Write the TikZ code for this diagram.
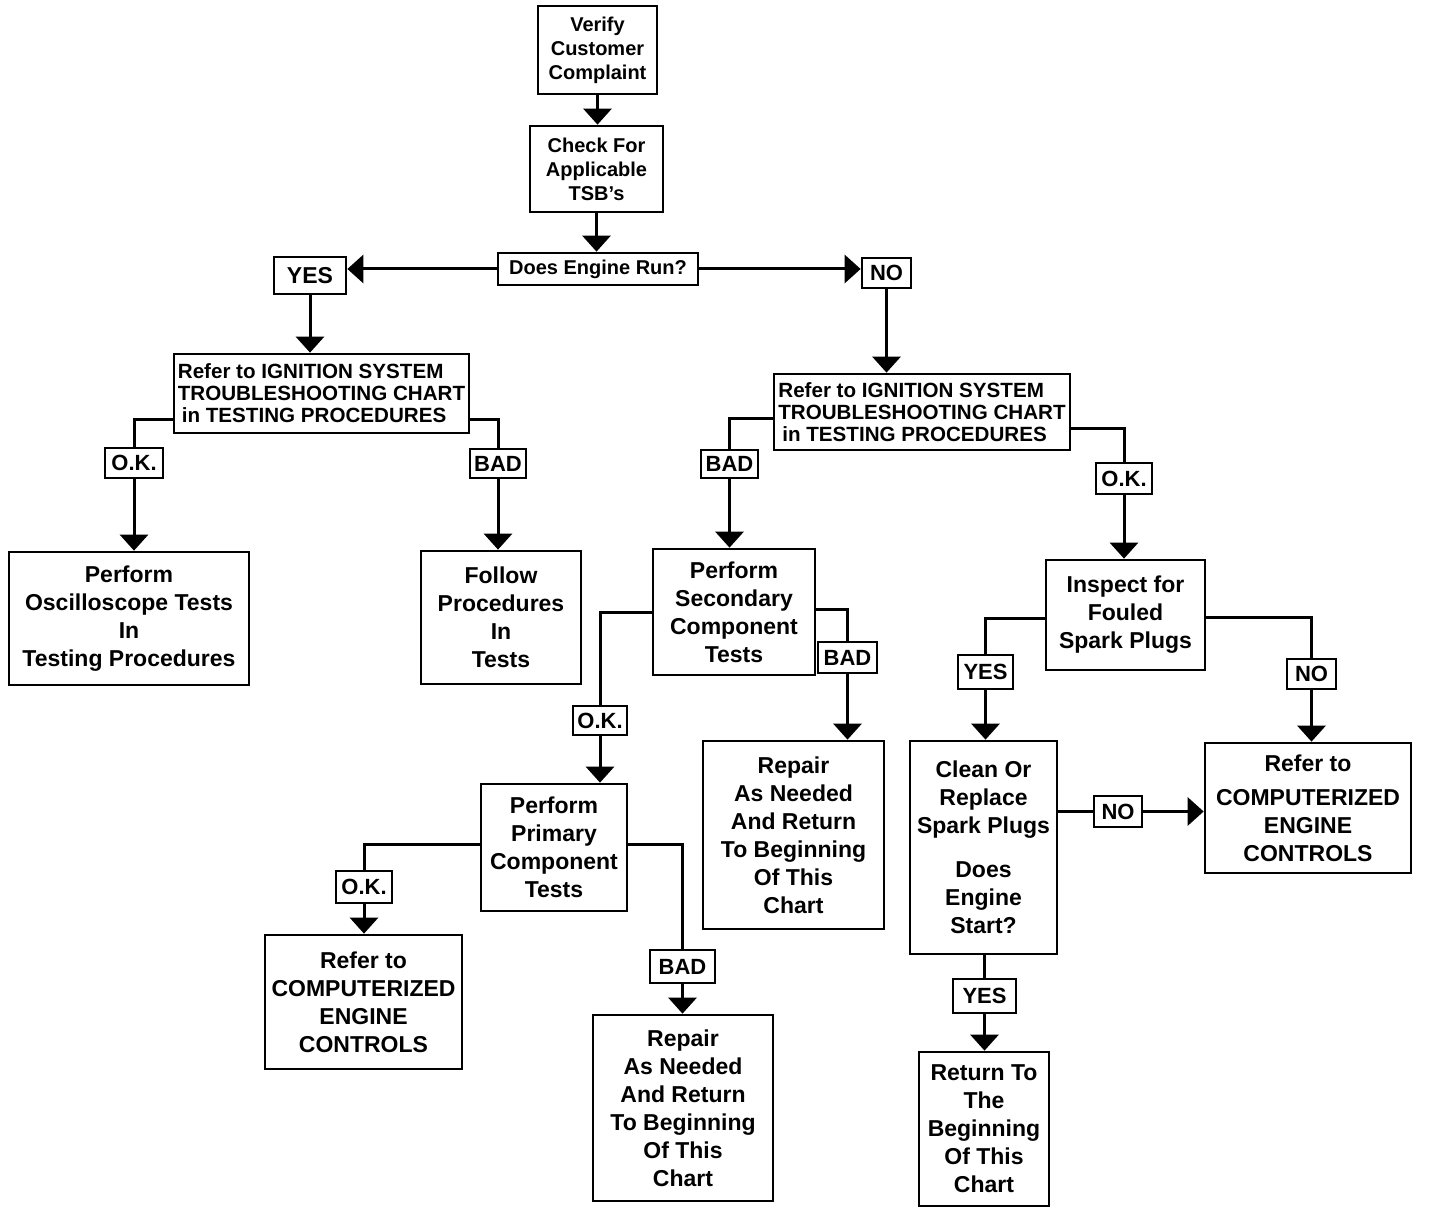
\documentclass[tikz,border=0pt]{standalone}
\usepackage{fontspec}
\setmainfont{Liberation Sans}
\usetikzlibrary{arrows.meta}
\begin{document}
\begin{tikzpicture}[x=0.5pt,y=-0.5pt,
  box/.style={draw, line width=1.35pt, align=center, inner sep=1pt,
    font=\fontsize{11.5}{14}\selectfont\bfseries},
  sbox/.style={box, font=\fontsize{10}{12}\selectfont\bfseries},
  ibox/.style={box, align=left, inner xsep=2pt, font=\fontsize{10.3}{11}\selectfont\bfseries},
  lab/.style={draw, line width=1.35pt, inner sep=0pt, font=\fontsize{11}{12}\selectfont\bfseries},
  conn/.style={line width=1.5pt},
  arr/.style={conn, -{Triangle[width=14pt,length=8pt]}}]
\useasboundingbox (0,0) rectangle (1440,1214);

\node[sbox, minimum width=59.5pt, minimum height=44pt] (verify) at (597.5,50) {Verify\\Customer\\Complaint};
\node[sbox, minimum width=66.5pt, minimum height=43pt] (check) at (596.5,169) {Check For\\Applicable\\TSB’s};
\node[sbox, minimum width=100pt, minimum height=16pt] (run) at (598,269) {Does Engine Run?};
\node[lab, minimum width=36pt, minimum height=18.5pt, font=\fontsize{11.5}{13}\selectfont\bfseries] (yesT) at (310,275.5) {YES};
\node[lab, minimum width=24.5pt, minimum height=15pt] (noT) at (886.5,273) {NO};

\node[ibox, minimum width=147.5pt, minimum height=39.5pt] (ignL) at (321.5,393.5) {Refer to IGNITION SYSTEM\\TROUBLESHOOTING CHART\\\hspace{2pt}in TESTING PROCEDURES};
\node[ibox, minimum width=148pt, minimum height=38pt] (ignR) at (922,412) {Refer to IGNITION SYSTEM\\TROUBLESHOOTING CHART\\\hspace{2pt}in TESTING PROCEDURES};

\node[lab, minimum width=29pt, minimum height=15pt] (okL) at (134,463) {O.K.};
\node[lab, minimum width=28pt, minimum height=14.5pt] (badL) at (498,463.5) {BAD};
\node[box, minimum width=120pt, minimum height=66.5pt] (osc) at (129,618.5) {Perform\\Oscilloscope Tests\\In\\Testing Procedures};
\node[box, minimum width=80pt, minimum height=66.5pt] (follow) at (501,617.5) {Follow\\Procedures\\In\\Tests};

\node[lab, minimum width=28.5pt, minimum height=14pt] (badR) at (729.5,464) {BAD};
\node[lab, minimum width=28pt, minimum height=15.5pt] (okR) at (1124,478.5) {O.K.};
\node[box, minimum width=81pt, minimum height=63pt] (sec) at (734,612) {Perform\\Secondary\\Component\\Tests};
\node[lab, minimum width=29.5pt, minimum height=15.5pt] (badS) at (847.5,657.5) {BAD};
\node[lab, minimum width=27pt, minimum height=14.5pt] (okS) at (600,720.5) {O.K.};
\node[box, minimum width=73pt, minimum height=63.5pt] (prim) at (554,847.5) {Perform\\Primary\\Component\\Tests};
\node[box, minimum width=90.5pt, minimum height=94pt] (repS) at (793.5,835) {Repair\\As Needed\\And Return\\To Beginning\\Of This\\Chart};

\node[box, minimum width=79.5pt, minimum height=55pt] (insp) at (1125.5,615) {Inspect for\\Fouled\\Spark Plugs};
\node[lab, minimum width=27.5pt, minimum height=17pt] (yesI) at (985.5,672) {YES};
\node[lab, minimum width=24.5pt, minimum height=15pt] (noI) at (1311.5,674) {NO};
\node[box, minimum width=73.5pt, minimum height=106.5pt] (clean) at (983.5,847.5) {Clean Or\\Replace\\Spark Plugs\\[8pt]Does\\Engine\\Start?};
\node[box, minimum width=103pt, minimum height=65pt] (refR) at (1308,808) {Refer to\\[3pt]COMPUTERIZED\\ENGINE\\CONTROLS};
\node[lab, minimum width=24pt, minimum height=15.5pt] (noC) at (1118,811.5) {NO};

\node[lab, minimum width=28pt, minimum height=16pt] (okP) at (364,887) {O.K.};
\node[box, minimum width=98.5pt, minimum height=67pt] (refL) at (363.5,1002) {Refer to\\COMPUTERIZED\\ENGINE\\CONTROLS};
\node[lab, minimum width=32.5pt, minimum height=16.5pt] (badP) at (682.5,966.5) {BAD};
\node[box, minimum width=90pt, minimum height=93pt] (repP) at (683,1108) {Repair\\As Needed\\And Return\\To Beginning\\Of This\\Chart};
\node[lab, minimum width=31.5pt, minimum height=17pt] (yesC) at (984.5,996) {YES};
\node[box, minimum width=65pt, minimum height=77pt] (ret) at (984,1129) {Return To\\The\\Beginning\\Of This\\Chart};

% connectors
\draw[arr] (verify.south) -- (verify.south |- check.north);
\draw[arr] (check.south) -- (check.south |- run.north);
\draw[arr] (run.west) -- (run.west -| yesT.east);
\draw[arr] (run.east) -- (run.east -| noT.west);
\draw[arr] (yesT.south) -- (yesT.south |- ignL.north);
\draw[arr] (noT.south) -- (noT.south |- ignR.north);

\draw[conn] ([yshift=7.5pt]ignL.south west) -| (okL.north);
\draw[arr] (okL.south) -- (okL.south |- osc.north);
\draw[conn] ([yshift=7.5pt]ignL.south east) -| (badL.north);
\draw[arr] (badL.south) -- (badL.south |- follow.north);

\draw[conn] ([yshift=16.5pt]ignR.south west) -| (badR.north);
\draw[arr] (badR.south) -- (badR.south |- sec.north);
\draw[conn] ([yshift=11.5pt]ignR.south east) -| (okR.north);
\draw[arr] (okR.south) -- (okR.south |- insp.north);

\draw[conn] ([yshift=32pt]sec.south west) -| (okS.north);
\draw[arr] (okS.south) -- (okS.south |- prim.north);
\draw[conn] ([yshift=33.5pt]sec.south east) -| (badS.north);
\draw[arr] (badS.south) -- (badS.south |- repS.north);

\draw[conn] ([yshift=26.5pt]insp.south west) -| (yesI.north);
\draw[arr] (yesI.south) -- (yesI.south |- clean.north);
\draw[conn] ([yshift=27pt]insp.south east) -| (noI.north);
\draw[arr] (noI.south) -- (noI.south |- refR.north);

\draw[conn] (noC.west -| clean.east) -- (noC.west);
\draw[arr] (noC.east) -- (noC.east -| refR.west);
\draw[conn] (yesC.north |- clean.south) -- (yesC.north);
\draw[arr] (yesC.south) -- (yesC.south |- ret.north);

\draw[conn] ([yshift=34pt]prim.south west) -| (okP.north);
\draw[arr] (okP.south) -- (okP.south |- refL.north);
\draw[conn] ([yshift=34pt]prim.south east) -| (badP.north);
\draw[arr] (badP.south) -- (badP.south |- repP.north);
\end{tikzpicture}
\end{document}
